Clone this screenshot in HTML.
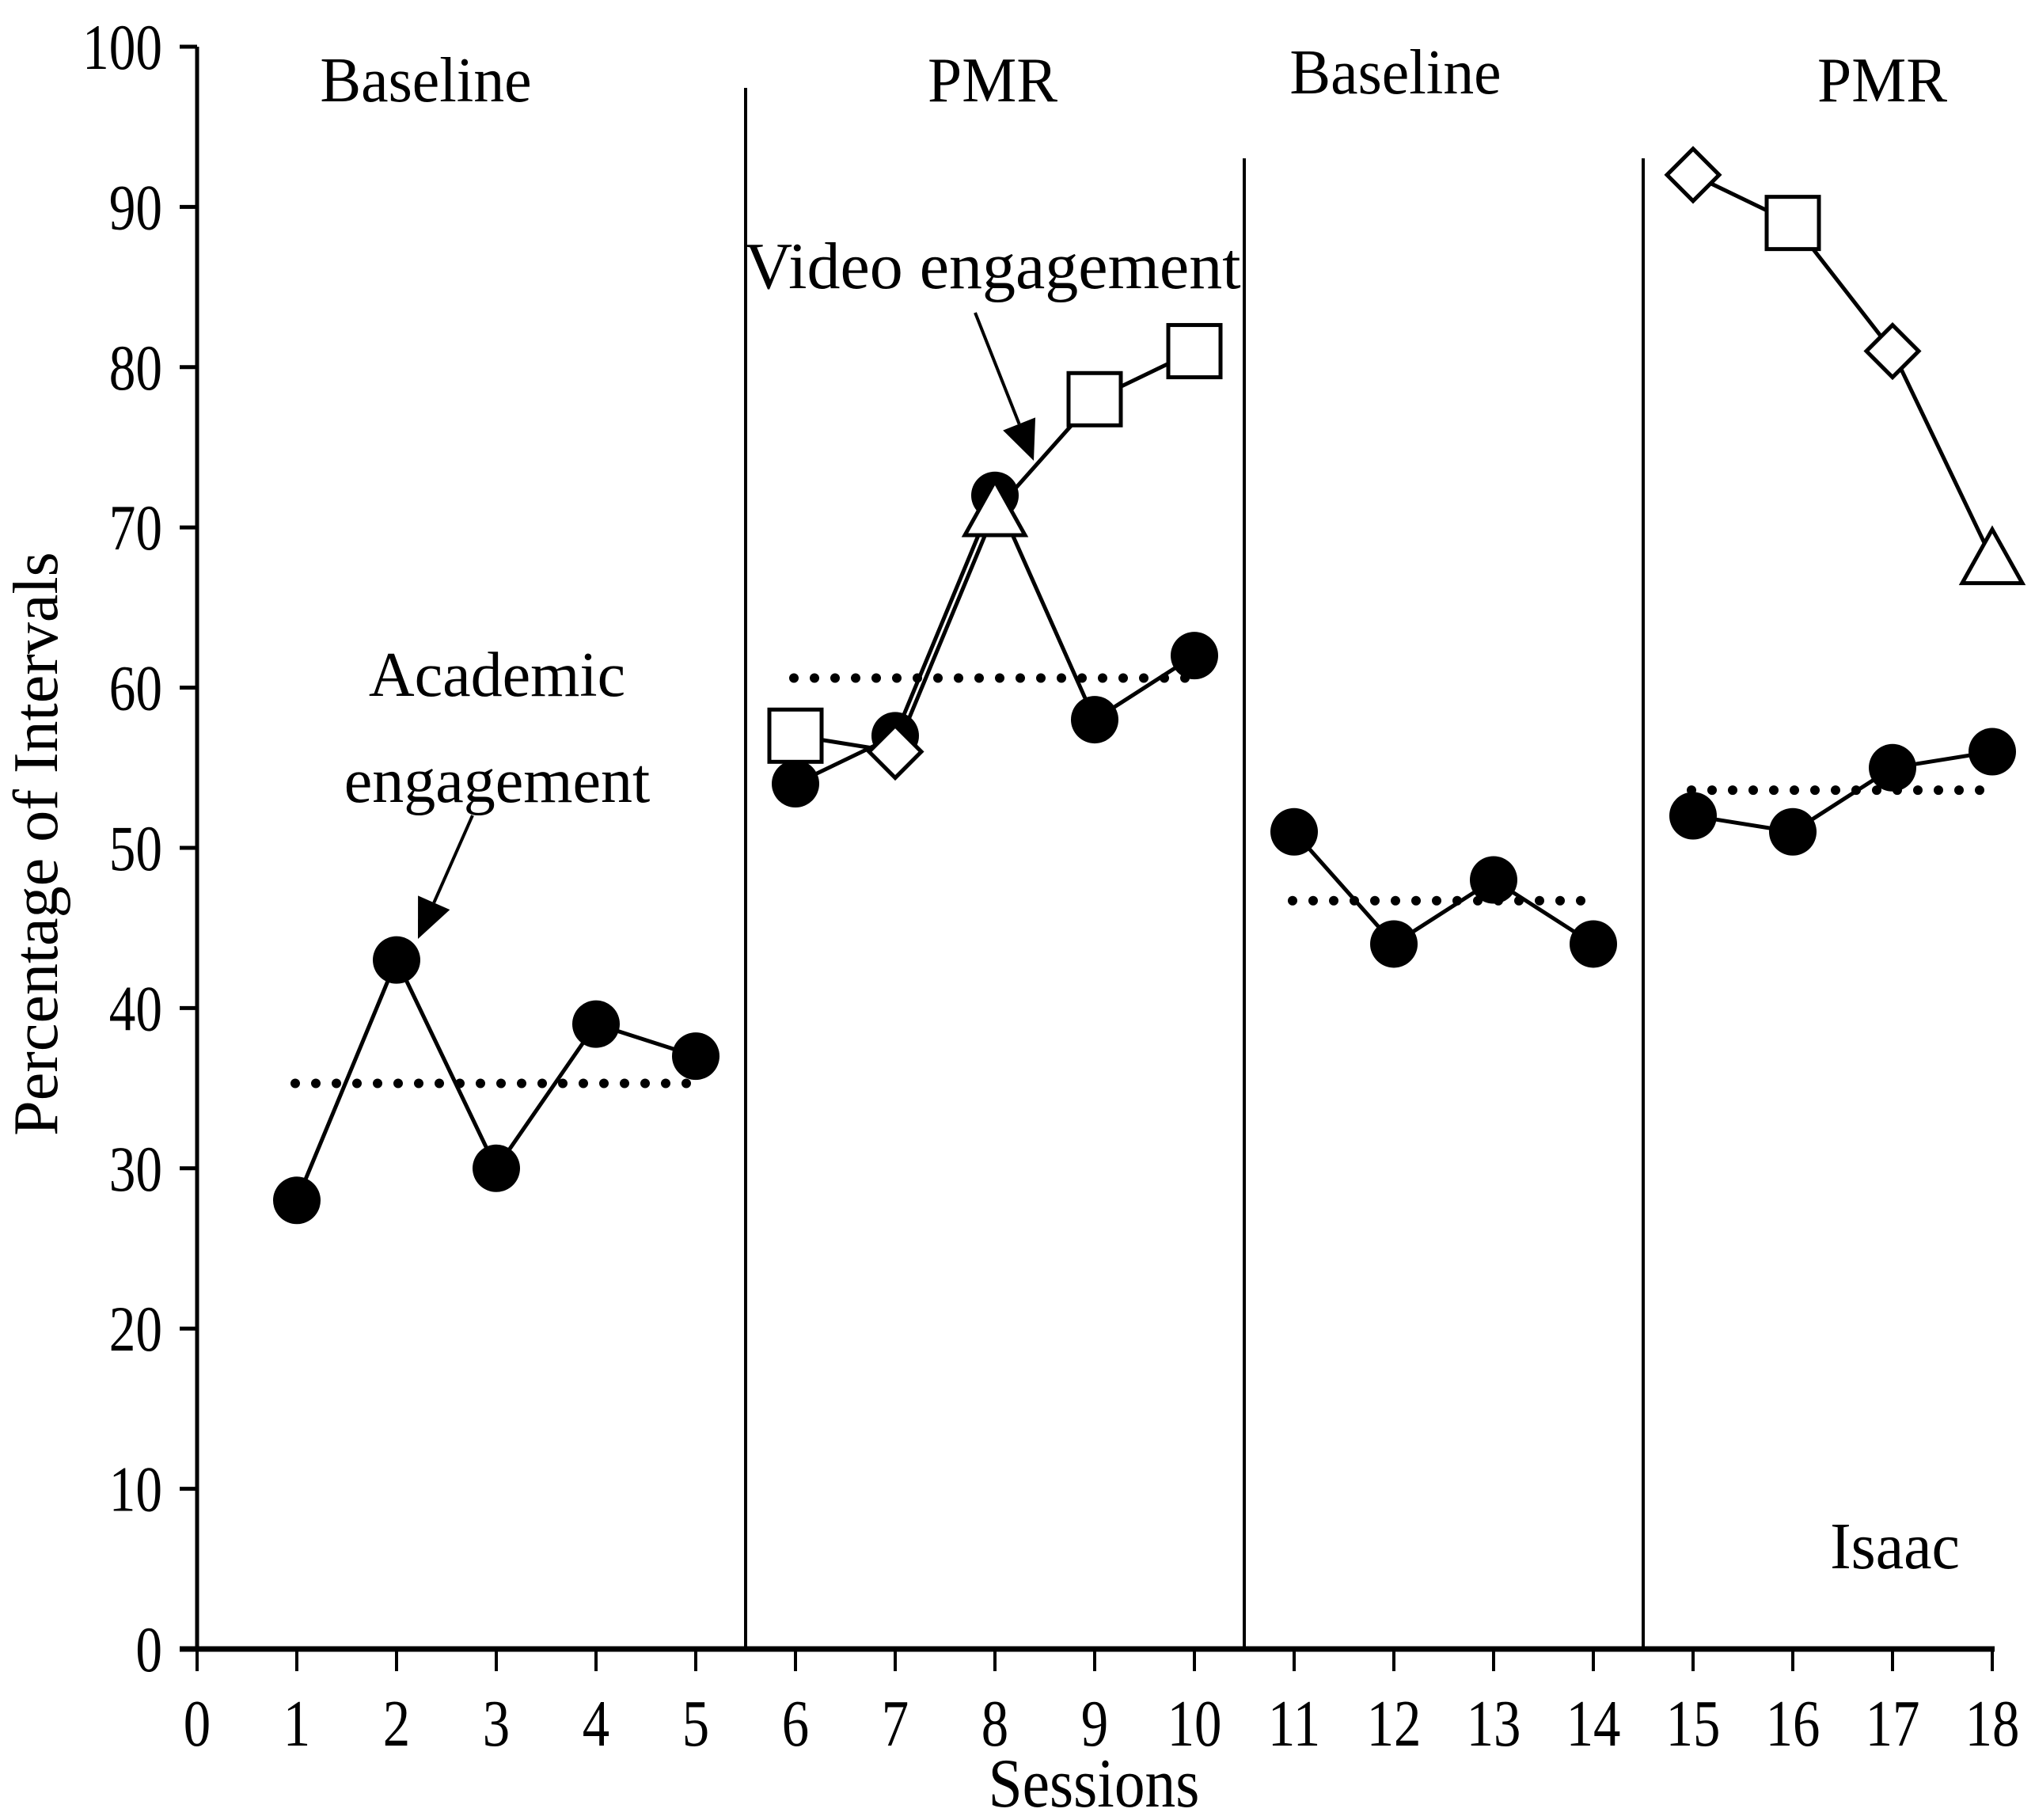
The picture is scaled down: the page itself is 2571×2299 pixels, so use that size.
<!DOCTYPE html>
<html><head><meta charset="utf-8"><style>
html,body{margin:0;padding:0;background:#fff}
svg{display:block}
text{font-family:"Liberation Serif",serif;fill:#000}
</style></head><body>
<svg id="chart" width="2571" height="2299" viewBox="0 0 2571 2299" xmlns="http://www.w3.org/2000/svg">
<rect width="2571" height="2299" fill="#fff"/>
</svg>
<script>
const sessions=[1,2,3,4,5,6,7,8,9,10,11,12,13,14,15,16,17,18];
const academic=[28,43,30,39,37,54,57,72,58,62,51,44,48,44,52,51,55,56];
const videoSessionsA=[6,7,8,9,10];
const videoValuesA=[57,56,71,78,81];
const videoShapesA=["square","diamond","triangle","square","square"];
const videoSessionsB=[15,16,17,18];
const videoValuesB=[92,89,81,68];
const videoShapesB=["diamond","square","diamond","triangle"];
const phaseSegments=[[1,5],[6,10],[11,14],[15,18]];
const phaseLines=[5.5,10.5,14.5];
const meanStart=[1,6,11,15];
const meanEnd=[5,10,14,18];
const meanValues=[35.3,60.6,46.7,53.6];
const yTicks=[0,10,20,30,40,50,60,70,80,90,100];
const xTicks=[0,1,2,3,4,5,6,7,8,9,10,11,12,13,14,15,16,17,18];

const NS="http://www.w3.org/2000/svg";
const svg=document.getElementById('chart');
const X=v=>249+v*126;
const Y=v=>2083-v*20.24;
function el(t,a,p){const e=document.createElementNS(NS,t);for(const k in a)e.setAttribute(k,a[k]);(p||svg).appendChild(e);return e;}
function txt(s,x,y,size,sx,anchor,p){const e=el('text',{transform:`translate(${x},${y}) scale(${sx},1)`,'font-size':size,'text-anchor':anchor||'middle'},p);e.textContent=s;return e;}

let ya=el('line',{x1:249,y1:Y(100),x2:249,y2:Y(0)+3,stroke:'#000','stroke-width':5});


let xa=el('line',{x1:X(0)-22,y1:Y(0),x2:X(18)+3,y2:Y(0),stroke:'#000','stroke-width':7});


yTicks.forEach(v=>{
 let t=el('line',{x1:227,y1:Y(v),x2:249,y2:Y(v),stroke:'#000','stroke-width':5});
 
 
 let l=txt(String(v),205,Y(v)+28,82,0.82,'end');
 
 
});
xTicks.forEach(v=>{
 let t=el('line',{x1:X(v),y1:Y(0),x2:X(v),y2:Y(0)+28,stroke:'#000','stroke-width':4});
 
 
 let l=txt(String(v),X(v),2205,84,0.82);
 
 
});
let xt=txt('Sessions',1382,2282,88,0.88);


let ytl=el('text',{transform:'translate(72,1066) rotate(-90)','font-size':80,'text-anchor':'middle'});
ytl.textContent='Percentage of Intervals';



const tops=[111,200,200];
phaseLines.forEach((p,i)=>{
 let l=el('line',{x1:X(p),y1:tops[i],x2:X(p),y2:Y(0),stroke:'#000','stroke-width':4});
 
 
});
[['Baseline',538,128],['PMR',1254,128],['Baseline',1763,118],['PMR',2378,128]].forEach(a=>{
 let t=txt(a[0],a[1],a[2],80,0.97);
 
 
});
meanValues.forEach((m,i)=>{
 let l=el('line',{x1:X(meanStart[i])-2,y1:Y(m),x2:X(meanEnd[i])-10,y2:Y(m),stroke:'#000','stroke-width':12,'stroke-linecap':'round','stroke-dasharray':'0 26'});
 
 
});
function vline(s,v){
 let pts=s.map((x,i)=>X(x)+','+Y(v[i])).join(' ');
 let l=el('polyline',{points:pts,fill:'none',stroke:'#000','stroke-width':5});
 
 
}
vline(videoSessionsA,videoValuesA);vline(videoSessionsB,videoValuesB);
phaseSegments.forEach(seg=>{
 let pts=[];for(let s=seg[0];s<=seg[1];s++){pts.push(X(s)+','+Y(academic[sessions.indexOf(s)]));}
 let l=el('polyline',{points:pts.join(' '),fill:'none',stroke:'#000','stroke-width':5});
 
 
});
sessions.forEach((s,i)=>{
 let c=el('circle',{cx:X(s),cy:Y(academic[i]),r:30,fill:'#000'});
 
 
});
function marker(shape,x,y){
 let m;
 if(shape==='square')m=el('rect',{x:x-33,y:y-33,width:66,height:66});
 else if(shape==='diamond')m=el('polygon',{points:`${x},${y-33} ${x+33},${y} ${x},${y+33} ${x-33},${y}`});
 else m=el('polygon',{points:`${x},${y-38} ${x+38},${y+30} ${x-38},${y+30}`});
 m.setAttribute('fill','#fff');m.setAttribute('stroke','#000');m.setAttribute('stroke-width',5);
 
 
}
videoSessionsA.forEach((s,i)=>marker(videoShapesA[i],X(s),Y(videoValuesA[i])));
videoSessionsB.forEach((s,i)=>marker(videoShapesB[i],X(s),Y(videoValuesB[i])));

function arrow(x1,y1,x2,y2,name){
 let g=el('g',{});
 
 
 const dx=x2-x1,dy=y2-y1,L=Math.hypot(dx,dy),ux=dx/L,uy=dy/L,h=50,w=22;
 const bx=x2-ux*h,by=y2-uy*h;
 el('line',{x1,y1,x2:bx,y2:by,stroke:'#000','stroke-width':4},g);
 el('polygon',{points:`${x2},${y2} ${bx-uy*w},${by+ux*w} ${bx+uy*w},${by-ux*w}`,fill:'#000'},g);
}
arrow(597,1030,528,1186,'academic-arrow');
arrow(1232,395,1306,582,'video-arrow');
[['Academic',628,879,80],['engagement',628,1013,80],['Video engagement',1254,364,84]].forEach(a=>{
 let t=txt(a[0],a[1],a[2],a[3],1.0);
 
 
});
let is=txt('Isaac',2394,1981,84,0.95);


</script>
</body></html>
